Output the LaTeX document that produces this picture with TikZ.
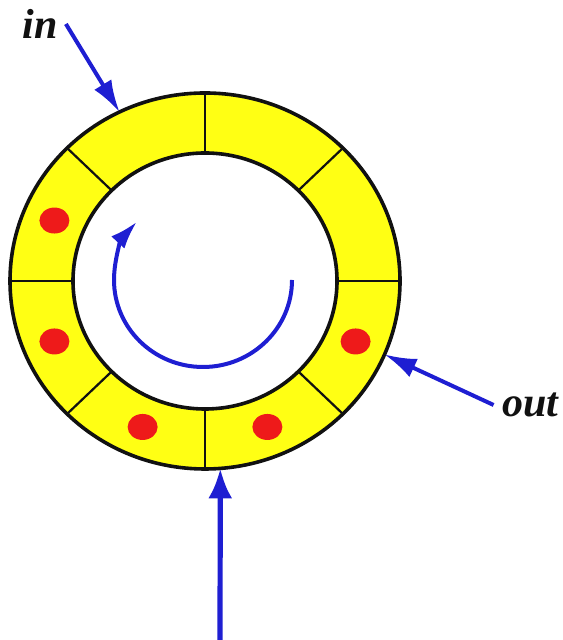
\documentclass[tikz,border=0pt]{standalone}
\usepackage{fontspec}
\setmainfont{Liberation Serif}
\usetikzlibrary{arrows.meta}
\definecolor{ink}{HTML}{111111}
\definecolor{ringfill}{HTML}{FFFF14}
\definecolor{tokenred}{HTML}{EE1A1A}
\definecolor{flow}{HTML}{1E1ED2}
\tikzset{
  rim/.style={draw=ink,line width=1.8pt},
  slot/.style={draw=ink,line width=1.1pt},
  tokendot/.style={fill=tokenred},
  portlabel/.style={font=\fontsize{21}{25}\selectfont\bfseries\itshape,text=ink,inner sep=4pt},
  feed/.style={-{Latex[length=16pt,width=10pt]},line width=2pt,draw=flow},
  feedbold/.style={-{Latex[length=15pt,width=12pt]},line width=2.6pt,draw=flow},
  turn/.style={-{Latex[length=14pt,width=9pt]},line width=2pt,draw=flow}
}
\begin{document}
\begin{tikzpicture}[x=0.5pt,y=0.5pt]
  \useasboundingbox (0,0) rectangle (562,640);
  \coordinate (ctr) at (205,359);
  \coordinate (spin) at (203,360);

  \fill[ringfill,even odd rule] (ctr) ellipse [x radius=195,y radius=188]
    (ctr) ellipse [x radius=132,y radius=128];
  \foreach \a in {0,45,...,315}
    \draw[slot] ([shift={(\a:132 and 128)}]ctr) -- ([shift={(\a:195 and 188)}]ctr);
  \draw[rim] (ctr) ellipse [x radius=195,y radius=188];
  \draw[rim] (ctr) ellipse [x radius=132,y radius=128];

  \foreach \a in {157.5,202.5,247.5,292.5,337.5}
    \fill[tokendot] ([shift={(\a:163 and 158)}]ctr) ellipse [x radius=15,y radius=13];

  \draw[turn] ([shift={(0:89 and 87)}]spin)
    arc [start angle=0,end angle=-222,x radius=89,y radius=87];

  \node[portlabel] (lblin) at (40,616) {in};
  \node[portlabel] (lblout) at (530,235) {out};
  \coordinate (inTip) at ([shift={(116:195 and 188)}]ctr);
  \coordinate (outTip) at ([shift={(-23:195 and 188)}]ctr);
  \coordinate (botTip) at ([shift={(-85.5:195 and 188)}]ctr);
  \coordinate (botBase) at (220,0);

  \draw[feed] (lblin.east) -- (inTip);
  \draw[feed] (lblout.west) -- (outTip);
  \draw[feedbold] (botBase) -- (botTip);
\end{tikzpicture}
\end{document}
